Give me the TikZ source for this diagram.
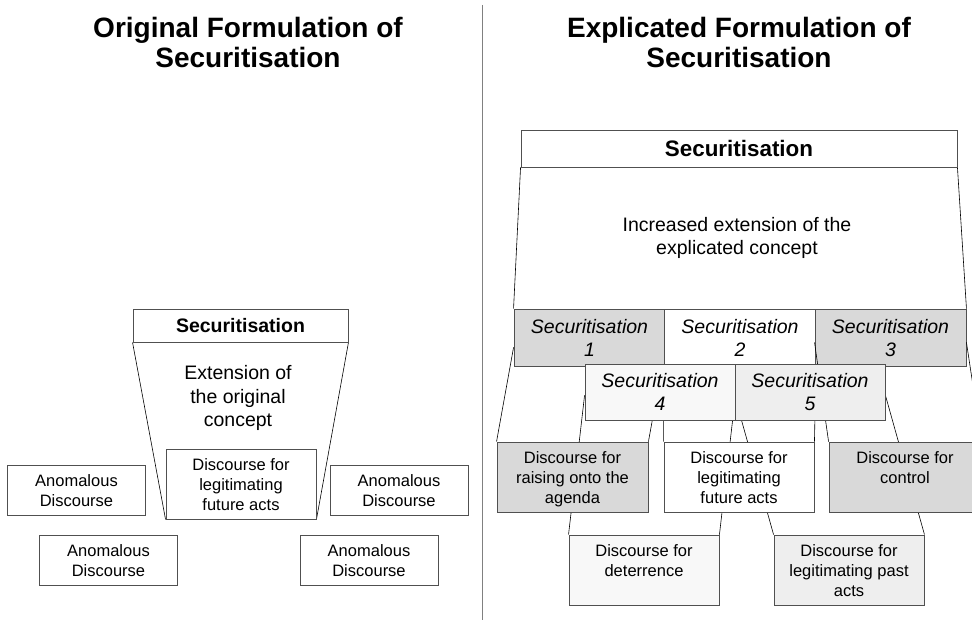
\documentclass[tikz,border=0pt]{standalone}
\usepackage{fontspec}
\setmainfont{Liberation Sans}
\usetikzlibrary{backgrounds}
\definecolor{gfill}{HTML}{D9D9D9}
\definecolor{lfill}{HTML}{EEEEEE}
\definecolor{vlfill}{HTML}{F8F8F8}
\definecolor{boxline}{HTML}{505050}
\definecolor{divline}{HTML}{808080}
\newcommand\ftop{\rule{0pt}{\dimexpr\ht\strutbox+5pt\relax}}
\begin{document}
\begin{tikzpicture}[x=1pt,y=-1pt,
  box/.style={draw=boxline, line width=0.9pt, fill=white, inner sep=0pt, align=center, font=\fontsize{16.5}{20}\selectfont},
  sbox/.style={box, font=\fontsize{19.5}{23.3}\selectfont\itshape, minimum width=151pt, minimum height=57pt},
  dbox/.style={box, minimum width=150pt, minimum height=70pt},
  abox/.style={box, minimum width=138pt, minimum height=50pt},
  hbox/.style={box, font=\fontsize{19.5}{23}\selectfont\bfseries},
  link/.style={draw=black, line width=0.6pt},
  titletext/.style={font=\fontsize{28}{30}\selectfont\bfseries, anchor=base, inner sep=0pt},
  plaintext/.style={align=center, inner sep=0pt, font=\fontsize{19.5}{23.3}\selectfont}]
\useasboundingbox (0,0) rectangle (972,620);
\clip (0,0) rectangle (972,620);

% titles
\node[titletext] (tl1) at (248,38) {Original Formulation of};
\node[titletext] (tl2) at (248,68) {Securitisation};
\node[titletext] (tr1) at (739,38) {Explicated Formulation of};
\node[titletext] (tr2) at (739,68) {Securitisation};

% divider
\coordinate (divtop) at (482,5);
\coordinate (divbot) at (482,620);
\draw[divline, line width=1pt] (divtop) -- (divbot);

% left panel
\node[hbox, minimum width=215pt, minimum height=33pt] (lsec) at (240.5,325.5) {\ftop Securitisation\strut};
\node[plaintext] (lext) at (238,398.5) {\strut Extension of\\the original\\concept\strut};
\node[dbox] (ldisc) at (241,484) {\ftop Discourse for\\legitimating\\future acts\strut};
\node[abox] (an1) at (76.5,490) {\ftop Anomalous\\Discourse\strut};
\node[abox] (an2) at (108.5,560) {\ftop Anomalous\\Discourse\strut};
\node[abox] (an3) at (399,490) {\ftop Anomalous\\Discourse\strut};
\node[abox] (an4) at (369,560) {\ftop Anomalous\\Discourse\strut};

% right panel
\node[hbox, minimum width=436pt, minimum height=37pt, font=\fontsize{22.4}{26}\selectfont\bfseries] (rsec) at (739,148.5) {Securitisation};
\node[plaintext] (rext) at (737,238.5) {\strut Increased extension of the\\explicated concept\strut};
\node[sbox, fill=gfill] (s1) at (589.5,337.5) {\ftop Securitisation\\1\strut};
\node[sbox] (s2) at (740,337.5) {\ftop Securitisation\\2\strut};
\node[sbox, fill=gfill] (s3) at (890.5,337.5) {\ftop Securitisation\\3\strut};
\node[dbox, minimum width=152pt, fill=gfill] (dcontrol) at (905,477) {\ftop Discourse for\\control\\\strut};
\draw[link] ([yshift=24pt]s3.south west) -- (dcontrol.north west);
\draw[link] ([yshift=24pt]s3.south east) -- (dcontrol.north east);
\node[sbox, minimum width=150pt, minimum height=56pt, fill=vlfill] (s4) at (660,392) {\ftop Securitisation\\4\strut};
\node[sbox, minimum width=150pt, minimum height=56pt, fill=lfill] (s5) at (810,392) {\ftop Securitisation\\5\strut};
\node[dbox, minimum width=151pt, fill=gfill] (draise) at (572.5,477) {\ftop Discourse for\\raising onto the\\agenda\strut};
\node[dbox] (dlegit) at (739,477) {\ftop Discourse for\\legitimating\\future acts\strut};
\node[dbox, fill=vlfill] (ddeter) at (644,570) {\ftop Discourse for\\deterrence\\\strut};
\node[dbox, fill=lfill] (dpast) at (849,570) {\ftop Discourse for\\legitimating past\\acts\strut};

\begin{pgfonlayer}{background}
  \draw[link] (lsec.south west) -- (ldisc.south west);
  \draw[link] (lsec.south east) -- (ldisc.south east);
  \draw[link] (rsec.south west) -- (s1.north west);
  \draw[link] (rsec.south east) -- (s3.north east);
  \draw[link] ([yshift=19pt]s1.south west) -- (draise.north west);
  \draw[link] ([yshift=19pt]s1.south east) -- (draise.north east);
  \draw[link] (s2.south west) -- (dlegit.north west);
  \draw[link] (s2.south east) -- (dlegit.north east);
  \draw[link] ([yshift=25pt]s4.south west) -- (ddeter.north west);
  \draw[link] ([yshift=25pt]s4.south east) -- (ddeter.north east);
  \draw[link] ([yshift=25pt]s5.south west) -- (dpast.north west);
  \draw[link] ([yshift=25pt]s5.south east) -- (dpast.north east);
\end{pgfonlayer}
\end{tikzpicture}
\end{document}
